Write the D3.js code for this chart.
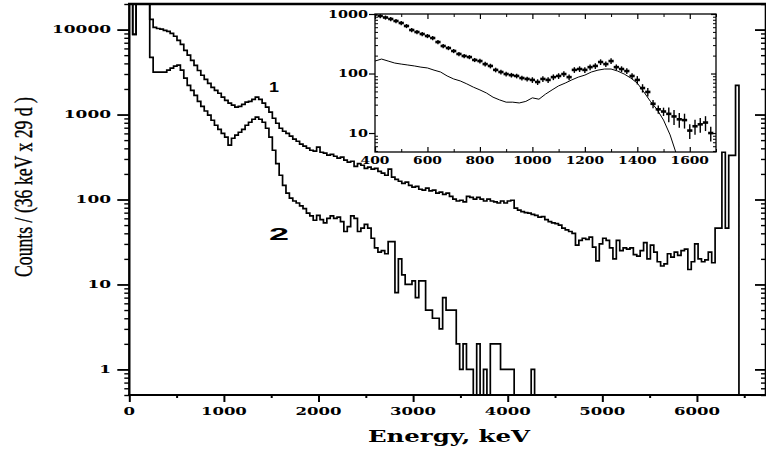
<!DOCTYPE html>
<html>
<head>
<meta charset="utf-8">
<script src="https://cdnjs.cloudflare.com/ajax/libs/d3/7.8.5/d3.min.js"></script>
<style>
    html, body { margin: 0; padding: 0; background: #fff; }
    svg { display: block; }
</style>
</head>
<body>
<div class="chart"></div>
<script>
// histogram bins, 36 keV wide, starting at 0 keV
var binWidth = 36;

// spectrum 1 (upper)
var counts1 = [
    60000, 8800, 60000, 60000, 60000, 60000, 13200, 10600, 10300, 10100,
    9800, 9550, 9040, 8340, 7480, 6700, 5700, 5000, 4350, 3800,
    3300, 2900, 2600, 2330, 2090, 1920, 1780, 1600, 1470, 1360,
    1290, 1220, 1250, 1320, 1400, 1430, 1510, 1600, 1510, 1360,
    1220, 1065, 904, 790, 690, 636, 600, 556, 514, 485,
    448, 425, 402, 380, 370, 413, 360, 351, 332, 340,
    323, 307, 315, 290, 275, 282, 246, 265, 253, 233,
    240, 228, 233, 214, 204, 193, 228, 183, 173, 164,
    155, 160, 147, 140, 143, 132, 129, 136, 126, 129,
    119, 122, 115, 119, 109, 101, 96, 98, 94, 109,
    106, 101, 106, 101, 96, 101, 96, 94, 91, 96,
    91, 96, 98, 79, 75, 72, 70, 69, 67, 65,
    62, 63, 58, 55, 53, 52, 50, 46, 44, 42,
    40, 29, 33, 35, 34, 36, 27.5, 19, 30, 35,
    33, 27, 20, 33, 25, 27, 26, 27, 22.5, 21.5,
    25, 31, 20, 29, 24, 18.5, 16.5, 17.5, 23, 21,
    24, 22, 25, 26, 15, 18.5, 30, 20, 18.5, 19.5,
    24, 18, 46, 46, 360, 46, 330, 330, 2200
];

// spectrum 2 (lower)
var counts2 = [
    60000, 8800, 60000, 60000, 60000, 60000, 4720, 3150, 3150, 3150,
    3150, 3340, 3520, 3720, 3810, 3340, 2680, 2210, 1920, 1680,
    1430, 1250, 1100, 982, 857, 748, 670, 600, 541, 436,
    526, 571, 619, 670, 748, 811, 880, 930, 880, 811,
    690, 541, 380, 265, 193, 147, 119, 104, 96, 91,
    84, 78, 69, 64, 57, 65, 58, 53, 60, 64,
    60, 62, 55, 42, 48, 64, 60, 42, 46, 51,
    46, 35, 27, 24, 25, 23, 32, 32, 8, 20,
    13, 10, 10, 11, 7, 11, 11, 5, 5, 4,
    4, 3, 7, 5, 5, 5, 2, 1, 2, 1,
    1, 0, 2, 0, 1, 0, 2, 2, 2, 1,
    1, 1, 1, 0, 0, 0, 0, 0, 1
];

var xTicks = [0, 1000, 2000, 3000, 4000, 5000, 6000];
var xMinorTicks = [500, 1500, 2500, 3500, 4500, 5500, 6500];
var yTicks = [1, 10, 100, 1000, 10000];

// inset: measured points with errors and the smooth curve
var insetEnergy = d3.range(400, 1700, 20);
var insetCounts = [
    981, 926, 873, 824, 763, 706, 629, 538, 498, 461,
    427, 395, 338, 290, 268, 239, 213, 197, 189, 169,
    162, 144, 134, 115, 106, 98, 94, 91, 84, 81,
    78, 72, 81, 78, 87, 91, 98, 87, 115, 119,
    115, 128, 134, 156, 144, 162, 128, 119, 110, 91,
    78, 57, 49, 31, 25, 23, 21, 19, 17, 16.5,
    11, 13, 14, 15, 10
];
var insetErr = [
    0.08, 0.08, 0.08, 0.08, 0.08, 0.08, 0.08, 0.08, 0.08, 0.08,
    0.08, 0.08, 0.08, 0.08, 0.08, 0.08, 0.08, 0.08, 0.08, 0.08,
    0.09, 0.09, 0.09, 0.09, 0.09, 0.09, 0.09, 0.09, 0.09, 0.09,
    0.11, 0.11, 0.11, 0.11, 0.11, 0.11, 0.11, 0.11, 0.11, 0.11,
    0.11, 0.11, 0.11, 0.11, 0.11, 0.11, 0.11, 0.11, 0.11, 0.11,
    0.16, 0.16, 0.16, 0.16, 0.16, 0.16, 0.28, 0.28, 0.28, 0.28,
    0.28, 0.28, 0.28, 0.28, 0.28
];
var simEnergy = d3.range(400, 1575, 25);
var simCounts = [
    162, 175, 162, 150, 144, 139, 134, 128, 124, 114,
    106, 91, 81, 75, 67, 59, 53, 47, 40, 36,
    33, 33, 32, 34, 39, 37, 45, 53, 62, 69,
    78, 87, 94, 106, 114, 119, 119, 110, 98, 84,
    69, 49, 34, 25, 16.5, 9.3, 4.3
];
var insetXTicks = [400, 600, 800, 1000, 1200, 1400, 1600];
var insetXMinor = [500, 700, 900, 1100, 1300, 1500, 1700];
var insetYTicks = [10, 100, 1000];

var svgWidth = 766,
    svgHeight = 450;

var svg = d3.select('.chart')
    .append('svg')
    .attr('width', svgWidth)
    .attr('height', svgHeight);

var serifBold = "'DejaVu Serif', serif";

// 主图比例尺
var xScale = d3.scaleLinear()
    .domain([0, 6730])
    .range([129.3, 766]);
var yScale = d3.scaleLog()
    .domain([0.5, 20000])
    .range([395, 4])
    .clamp(true);

var yMinor = yScale.ticks().filter(function(d) {
    return yTicks.indexOf(d) < 0 && d >= 0.5;
});

function cleanAxis(g, width) {
    g.select('.domain').remove();
    g.selectAll('.tick line').attr('stroke', '#000').attr('stroke-width', width);
}

// left axis ticks
svg.append('g')
    .attr('transform', 'translate(129.3,0)')
    .call(d3.axisLeft(yScale).tickValues(yTicks).tickSize(12).tickFormat(function() { return ''; }))
    .call(cleanAxis, 1.8);
svg.append('g')
    .attr('transform', 'translate(129.3,0)')
    .call(d3.axisLeft(yScale).tickValues(yMinor).tickSize(5).tickFormat(function() { return ''; }))
    .call(cleanAxis, 1.4);

// right axis ticks (pointing inside)
svg.append('g')
    .attr('transform', 'translate(766,0)')
    .call(d3.axisLeft(yScale).tickValues(yTicks).tickSize(11).tickFormat(function() { return ''; }))
    .call(cleanAxis, 1.8);
svg.append('g')
    .attr('transform', 'translate(766,0)')
    .call(d3.axisLeft(yScale).tickValues(yMinor).tickSize(5).tickFormat(function() { return ''; }))
    .call(cleanAxis, 1.4);

// bottom axis ticks
svg.append('g')
    .attr('transform', 'translate(0,395)')
    .call(d3.axisBottom(xScale).tickValues(xTicks).tickSize(7).tickFormat(function() { return ''; }))
    .call(cleanAxis, 2);
svg.append('g')
    .attr('transform', 'translate(0,395)')
    .call(d3.axisBottom(xScale).tickValues(xMinorTicks).tickSize(3).tickFormat(function() { return ''; }))
    .call(cleanAxis, 2);

// frame lines
var frame = svg.append('g').attr('stroke', '#000').attr('fill', 'none');
frame.append('line').attr('x1', 129.3).attr('x2', 129.3).attr('y1', 3).attr('y2', 396).attr('stroke-width', 2.4);
frame.append('line').attr('x1', 128).attr('x2', 766).attr('y1', 395).attr('y2', 395).attr('stroke-width', 2.2);
frame.append('line').attr('x1', 128).attr('x2', 766).attr('y1', 4).attr('y2', 4).attr('stroke-width', 2.6);
frame.append('line').attr('x1', 765.5).attr('x2', 765.5).attr('y1', 4).attr('y2', 395).attr('stroke-width', 1.6);

// tick labels (wide bold serif)
var labelW = 11.8;
svg.append('g')
    .selectAll('text')
    .data(yTicks)
    .enter()
    .append('text')
    .attr('x', function(d) { return 111 - String(d).length * labelW; })
    .attr('y', function(d) { return yScale(d) + 3.8; })
    .attr('textLength', function(d) { return String(d).length * labelW; })
    .attr('lengthAdjust', 'spacingAndGlyphs')
    .style('font-family', serifBold)
    .style('font-weight', 'bold')
    .style('font-size', '11px')
    .text(function(d) { return d; });

svg.append('g')
    .selectAll('text')
    .data(xTicks)
    .enter()
    .append('text')
    .attr('x', function(d) { return xScale(d) - String(d).length * 11.5 / 2; })
    .attr('y', 415)
    .attr('textLength', function(d) { return String(d).length * 11.5; })
    .attr('lengthAdjust', 'spacingAndGlyphs')
    .style('font-family', serifBold)
    .style('font-weight', 'bold')
    .style('font-size', '11px')
    .text(function(d) { return d; });

// axis titles
svg.append('text')
    .attr('x', 368)
    .attr('y', 442)
    .attr('textLength', 162)
    .attr('lengthAdjust', 'spacingAndGlyphs')
    .style('font-family', serifBold)
    .style('font-weight', 'bold')
    .style('font-size', '16px')
    .text('Energy, keV');

svg.append('text')
    .attr('transform', 'translate(32,187) rotate(-90)')
    .attr('x', -90)
    .attr('y', 0)
    .attr('textLength', 180)
    .attr('lengthAdjust', 'spacingAndGlyphs')
    .style('font-family', "'Liberation Serif', serif")
    .style('font-size', '26px')
    .style('stroke', '#000')
    .style('stroke-width', 0.4)
    .text('Counts / (36 keV x 29 d )');

// histograms
function stepPoints(vals) {
    var pts = vals.map(function(v, i) { return [i * binWidth, v]; });
    pts.push([vals.length * binWidth, 0]);
    pts.push([xScale.domain()[1], 0]);
    return pts;
}
var histLine = d3.line()
    .x(function(d) { return xScale(d[0]); })
    .y(function(d) { return yScale(Math.max(d[1], 0.1)); })
    .curve(d3.curveStepAfter);

svg.append('g')
    .classed('hist-container', true)
    .selectAll('path')
    .data([counts1, counts2])
    .enter()
    .append('path')
    .attr('d', function(d) { return histLine(stepPoints(d)); })
    .attr('fill', 'none')
    .attr('stroke', '#000')
    .attr('stroke-width', 1.7);

// curve numbers
svg.append('text')
    .attr('x', 269)
    .attr('y', 92)
    .attr('textLength', 10)
    .attr('lengthAdjust', 'spacingAndGlyphs')
    .style('font-family', "'Liberation Sans', Arial, sans-serif")
    .style('font-weight', 'bold')
    .style('font-size', '14px')
    .text('1');
svg.append('text')
    .attr('x', 269)
    .attr('y', 240)
    .attr('textLength', 20)
    .attr('lengthAdjust', 'spacingAndGlyphs')
    .style('font-family', "'Liberation Sans', Arial, sans-serif")
    .style('font-weight', 'bold')
    .style('font-size', '16px')
    .text('2');

// ---------------- inset ----------------
var ixScale = d3.scaleLinear()
    .domain([400, 1700])
    .range([375, 716]);
var iyScale = d3.scaleLog()
    .domain([4.8, 1000])
    .range([152, 14]);

var inset = svg.append('g').classed('inset', true);
inset.append('rect')
    .attr('x', 375)
    .attr('y', 14)
    .attr('width', 341)
    .attr('height', 138)
    .attr('fill', '#fff');

svg.append('defs')
    .append('clipPath')
    .attr('id', 'inset-clip')
    .append('rect')
    .attr('x', 375)
    .attr('y', 14)
    .attr('width', 341)
    .attr('height', 138);

var iyMinor = iyScale.ticks().filter(function(d) {
    return insetYTicks.indexOf(d) < 0;
});

inset.append('g')
    .attr('transform', 'translate(375,0)')
    .call(d3.axisLeft(iyScale).tickValues(insetYTicks).tickSize(6).tickFormat(function() { return ''; }))
    .call(cleanAxis, 1.2);
inset.append('g')
    .attr('transform', 'translate(375,0)')
    .call(d3.axisRight(iyScale).tickValues(iyMinor).tickSize(3).tickFormat(function() { return ''; }))
    .call(cleanAxis, 1);
inset.append('g')
    .attr('transform', 'translate(716,0)')
    .call(d3.axisLeft(iyScale).tickValues(insetYTicks).tickSize(5).tickFormat(function() { return ''; }))
    .call(cleanAxis, 1.2);
inset.append('g')
    .attr('transform', 'translate(716,0)')
    .call(d3.axisLeft(iyScale).tickValues(iyMinor).tickSize(3).tickFormat(function() { return ''; }))
    .call(cleanAxis, 1);
inset.append('g')
    .attr('transform', 'translate(0,152)')
    .call(d3.axisTop(ixScale).tickValues(insetXTicks).tickSize(5).tickFormat(function() { return ''; }))
    .call(cleanAxis, 1.2);
inset.append('g')
    .attr('transform', 'translate(0,152)')
    .call(d3.axisTop(ixScale).tickValues(insetXMinor).tickSize(3).tickFormat(function() { return ''; }))
    .call(cleanAxis, 1);
inset.append('g')
    .attr('transform', 'translate(0,14)')
    .call(d3.axisBottom(ixScale).tickValues(insetXTicks).tickSize(5).tickFormat(function() { return ''; }))
    .call(cleanAxis, 1.2);
inset.append('g')
    .attr('transform', 'translate(0,14)')
    .call(d3.axisBottom(ixScale).tickValues(insetXMinor).tickSize(3).tickFormat(function() { return ''; }))
    .call(cleanAxis, 1);

inset.append('rect')
    .attr('x', 375)
    .attr('y', 14)
    .attr('width', 341)
    .attr('height', 138)
    .attr('fill', 'none')
    .attr('stroke', '#000')
    .attr('stroke-width', 1.3);

inset.append('g')
    .selectAll('text')
    .data(insetXTicks)
    .enter()
    .append('text')
    .attr('x', function(d) { return ixScale(d) - String(d).length * 9.6 / 2; })
    .attr('y', 164)
    .attr('textLength', function(d) { return String(d).length * 9.6; })
    .attr('lengthAdjust', 'spacingAndGlyphs')
    .style('font-family', serifBold)
    .style('font-weight', 'bold')
    .style('font-size', '11px')
    .text(function(d) { return d; });

inset.append('g')
    .selectAll('text')
    .data(insetYTicks)
    .enter()
    .append('text')
    .attr('x', function(d) { return 368 - String(d).length * 10; })
    .attr('y', function(d) { return iyScale(d) + 3.6; })
    .attr('textLength', function(d) { return String(d).length * 10; })
    .attr('lengthAdjust', 'spacingAndGlyphs')
    .style('font-family', serifBold)
    .style('font-weight', 'bold')
    .style('font-size', '10.5px')
    .text(function(d) { return d; });

var insetPlot = inset.append('g').attr('clip-path', 'url(#inset-clip)');

// smooth curve
var simLine = d3.line()
    .x(function(d, i) { return ixScale(simEnergy[i]); })
    .y(function(d) { return iyScale(d); });
insetPlot.append('path')
    .attr('d', simLine(simCounts))
    .attr('fill', 'none')
    .attr('stroke', '#000')
    .attr('stroke-width', 1);

// measured points with error bars
var points = insetPlot.append('g')
    .selectAll('g')
    .data(insetCounts)
    .enter()
    .append('g')
    .attr('stroke', '#000');
points.append('line')
    .attr('x1', function(d, i) { return ixScale(insetEnergy[i]); })
    .attr('x2', function(d, i) { return ixScale(insetEnergy[i]); })
    .attr('y1', function(d, i) { return iyScale(d * (1 + insetErr[i])); })
    .attr('y2', function(d, i) { return iyScale(d * (1 - insetErr[i])); })
    .attr('stroke-width', 1.4);
points.append('line')
    .attr('x1', function(d, i) { return ixScale(insetEnergy[i] - 10); })
    .attr('x2', function(d, i) { return ixScale(insetEnergy[i] + 10); })
    .attr('y1', function(d) { return iyScale(d); })
    .attr('y2', function(d) { return iyScale(d); })
    .attr('stroke-width', 2.6);
</script>
</body>
</html>
